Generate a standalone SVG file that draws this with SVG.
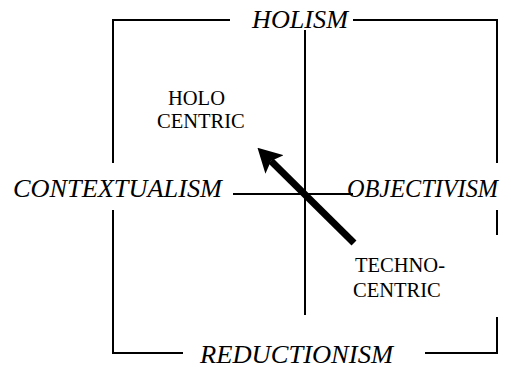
<svg xmlns="http://www.w3.org/2000/svg" width="511" height="367" viewBox="0 0 511 367">
<style>
.frame{stroke:#000;stroke-width:2;fill:none}
.axis{font-family:"Liberation Serif","Times New Roman",serif;font-style:italic;font-size:25px;fill:#000}
.lbl{font-family:"Liberation Serif","Times New Roman",serif;font-size:20.5px;fill:#000}
</style>
<defs>
<marker id="ah" viewBox="0 0 24 26" refX="5" refY="13" markerWidth="24" markerHeight="26" orient="auto" markerUnits="userSpaceOnUse">
<path d="M0,0 L24,13 L0,26 L5,13 Z" fill="#000"/>
</marker>
</defs>
<g id="connectors">
<path class="frame" d="M230,20 H113 V163 M113,210 V353 H183 M425,353 H497 V317 M497,235 V210 M497,163 V20 H353"/>
<line class="frame" x1="305" y1="30" x2="305" y2="315"/>
<line class="frame" x1="233" y1="194" x2="353" y2="194"/>
<line x1="354" y1="243" x2="271" y2="161" stroke="#000" stroke-width="7" marker-end="url(#ah)"/>
</g>
<g id="holism"><text class="axis" x="252" y="28" textLength="96" lengthAdjust="spacingAndGlyphs">HOLISM</text></g>
<g id="contextualism"><text class="axis" x="13" y="197" textLength="209" lengthAdjust="spacingAndGlyphs">CONTEXTUALISM</text></g>
<g id="objectivism"><text class="axis" x="347" y="197" textLength="151" lengthAdjust="spacingAndGlyphs">OBJECTIVISM</text></g>
<g id="reductionism"><text class="axis" x="200" y="363" textLength="193" lengthAdjust="spacingAndGlyphs">REDUCTIONISM</text></g>
<g id="holocentric"><text class="lbl" x="168" y="105">HOLO</text><text class="lbl" x="157" y="128">CENTRIC</text></g>
<g id="technocentric"><text class="lbl" x="355" y="272">TECHNO-</text><text class="lbl" x="353" y="297">CENTRIC</text></g>
</svg>
